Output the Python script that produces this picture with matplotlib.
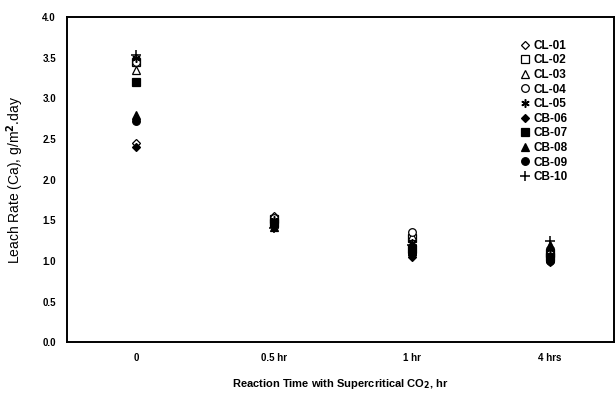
import matplotlib
matplotlib.use("Agg")
import matplotlib.pyplot as plt

plt.rcParams['font.family'] = ['Liberation Sans', 'DejaVu Sans']
plt.rcParams['font.weight'] = 'bold'

times = ['0', '0.5 hr', '1 hr', '4 hrs']
samples = ['CL-01', 'CL-02', 'CL-03', 'CL-04', 'CL-05',
           'CB-06', 'CB-07', 'CB-08', 'CB-09', 'CB-10']

# leach rate (Ca), g/m2.day, one list per sample: 0, 0.5 hr, 1 hr, 4 hrs
cl01 = [2.45, 1.55, 1.25, 1.12]
cl02 = [3.45, 1.52, 1.28, 1.10]
cl03 = [3.35, 1.50, 1.30, 1.18]
cl04 = [3.45, 1.53, 1.36, 1.08]
cl05 = [3.50, 1.50, 1.22, 1.15]
cb06 = [2.40, 1.48, 1.05, 0.98]
cb07 = [3.20, 1.47, 1.15, 1.05]
cb08 = [2.80, 1.42, 1.12, 1.20]
cb09 = [2.72, 1.45, 1.08, 1.00]
cb10 = [3.53, 1.40, 1.20, 1.25]

series = [cl01, cl02, cl03, cl04, cl05, cb06, cb07, cb08, cb09, cb10]
markers = ['D', 's', '^', 'o', (6, 2, 0), 'D', 's', '^', 'o', '+']
filled = [False] * 5 + [True] * 5
sizes = [4.5, 5.5, 5.5, 5.5, 6, 4.5, 5.5, 5.5, 5.5, 7]

fig = plt.figure(figsize=(6.15, 3.96), dpi=100)
ax = fig.add_axes([0.109, 0.136, 0.89, 0.821])

x = list(range(len(times)))
for vals, lab, m, f, s in zip(series, samples, markers, filled, sizes):
    if m in ('+', (6, 2, 0)):
        ax.plot(x, vals, linestyle='none', marker=m, color='black',
                markersize=s, markeredgewidth=1.1, label=lab)
    else:
        ax.plot(x, vals, linestyle='none', marker=m, markersize=s,
                markerfacecolor='black' if f else 'white',
                markeredgecolor='black', markeredgewidth=0.9, label=lab)

ax.set_xlim(-0.5, 3.47)
ax.set_ylim(0, 4.0)
ax.set_yticks([0, 0.5, 1.0, 1.5, 2.0, 2.5, 3.0, 3.5, 4.0])
ax.set_yticklabels(['%.1f' % v for v in ax.get_yticks()])
ax.set_xticks(x)
ax.set_xticklabels(times)
ax.tick_params(axis='both', length=0, labelsize=7, pad=8)
for t in ax.get_xticklabels() + ax.get_yticklabels():
    t.set_fontweight('bold')

for side in ['left', 'bottom', 'top', 'right']:
    ax.spines[side].set_linewidth(1.4)

ax.set_xlabel('Reaction Time with Supercritical CO$_2$, hr', fontsize=8,
              fontweight='bold', labelpad=10)
ax.set_ylabel('Leach Rate (Ca), g/m$^2$.day', fontsize=10,
              fontweight='normal', labelpad=12)

ax.legend(loc='upper right', bbox_to_anchor=(0.914, 0.93), frameon=False,
          handlelength=0.8, handletextpad=0.3,
          labelspacing=0.22, borderaxespad=0, borderpad=0,
          prop={'weight': 'bold', 'size': 8.5})

fig.savefig('out.png', dpi=100)
